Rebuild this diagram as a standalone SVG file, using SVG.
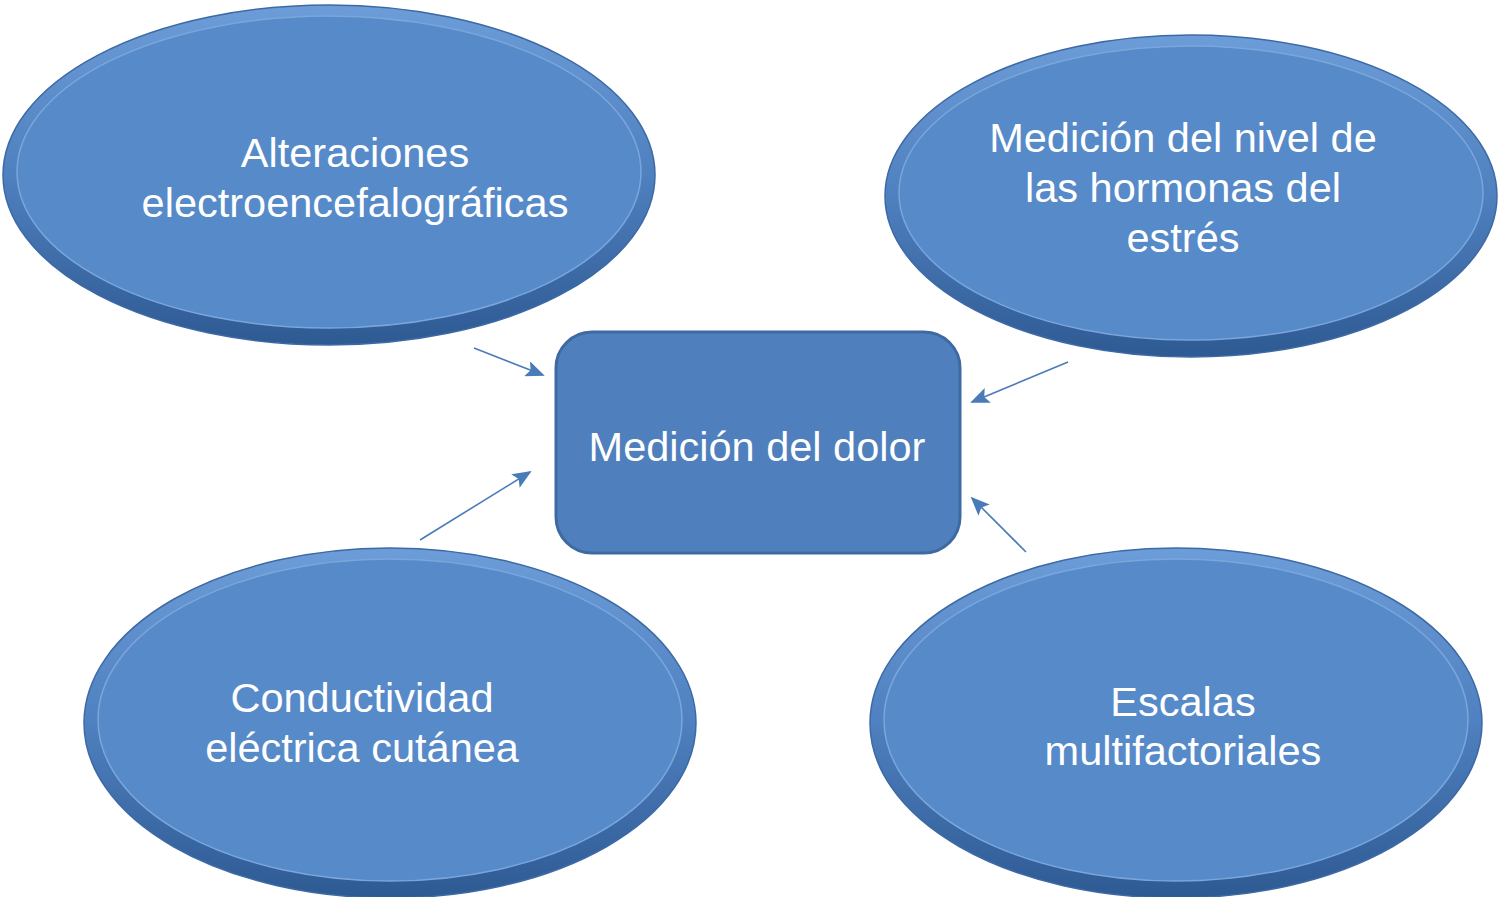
<svg xmlns="http://www.w3.org/2000/svg" width="1500" height="897" viewBox="0 0 1500 897">
<defs>
<linearGradient id="rim" x1="0" y1="0" x2="0" y2="1">
<stop offset="0" stop-color="#6d9dd8"/>
<stop offset="0.5" stop-color="#4f80bf"/>
<stop offset="1" stop-color="#2e5a93"/>
</linearGradient>
<marker id="ah" viewBox="0 0 10 10" refX="9" refY="5" markerWidth="19" markerHeight="16" markerUnits="userSpaceOnUse" orient="auto" preserveAspectRatio="none">
<path d="M0,0 L10,5 L0,10 L2,5 Z" fill="#4a7bb9"/>
</marker>
<style>
.rim{fill:url(#rim);stroke:#3d6aa5;stroke-width:1.5}
.face{fill:#578ac9;stroke:#7aa6dc;stroke-width:1.5}
.box{fill:#4f80bd;stroke:#3e6aa2;stroke-width:3}
.t{font-family:"Liberation Sans",Arial,sans-serif;font-size:41.5px;fill:#ffffff;text-anchor:middle}
.c{stroke:#4a7bb9;stroke-width:1.6;fill:none;marker-end:url(#ah)}
</style>
</defs>
<rect width="1500" height="897" fill="#ffffff"/>
<g id="n-alteraciones">
<ellipse class="rim" cx="329" cy="175" rx="326" ry="170"/>
<ellipse class="face" cx="329" cy="172" rx="312" ry="156"/>
<text class="t" x="355" y="167">Alteraciones</text>
<text class="t" x="355" y="217">electroencefalográficas</text>
</g>
<g id="n-hormonas">
<ellipse class="rim" cx="1191" cy="196" rx="306" ry="161"/>
<ellipse class="face" cx="1191" cy="193" rx="292" ry="147"/>
<text class="t" x="1183" y="152">Medición del nivel de</text>
<text class="t" x="1183" y="202">las hormonas del</text>
<text class="t" x="1183" y="252">estrés</text>
</g>
<g id="n-conductividad">
<ellipse class="rim" cx="390" cy="723" rx="306" ry="175"/>
<ellipse class="face" cx="390" cy="720" rx="292" ry="161"/>
<text class="t" x="362" y="712">Conductividad</text>
<text class="t" x="362" y="762">eléctrica cutánea</text>
</g>
<g id="n-escalas">
<ellipse class="rim" cx="1176" cy="723" rx="306" ry="175"/>
<ellipse class="face" cx="1176" cy="720" rx="292" ry="161"/>
<text class="t" x="1183" y="716">Escalas</text>
<text class="t" x="1183" y="765">multifactoriales</text>
</g>
<g id="n-dolor">
<rect class="box" x="556" y="332" width="404" height="221" rx="36" ry="36"/>
<text class="t" x="757" y="461">Medición del dolor</text>
</g>
<g id="connectors">
<line class="c" x1="474" y1="348" x2="543" y2="375"/>
<line class="c" x1="1068" y1="362" x2="972" y2="402"/>
<line class="c" x1="420" y1="540" x2="530" y2="472"/>
<line class="c" x1="1026" y1="552" x2="972" y2="498"/>
</g>
</svg>
